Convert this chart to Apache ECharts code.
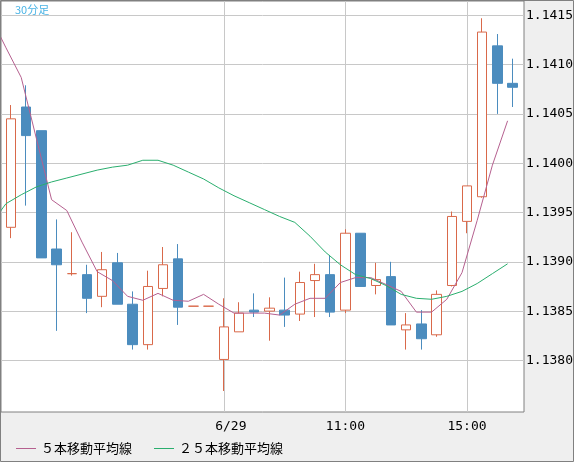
<!DOCTYPE html>
<html>
<head>
<meta charset="utf-8">
<script src="https://cdn.jsdelivr.net/npm/echarts@6/dist/echarts.min.js"></script>
<style>
  html, body { margin: 0; padding: 0; background: #efefef; }
  #chart { width: 574px; height: 462px; }
</style>
</head>
<body>
<div id="chart"></div>
<script>
// 30分足 (30-minute bars)
var times = ["0:00", "0:30", "1:00", "1:30", "2:00", "2:30", "3:00", "3:30", "4:00", "4:30",
  "5:00", "5:30", "6:00", "6:30", "7:00", "7:30", "8:00", "8:30", "9:00", "9:30",
  "10:00", "10:30", "11:00", "11:30", "12:00", "12:30", "13:00", "13:30", "14:00", "14:30",
  "15:00", "15:30", "16:00", "16:30"];

var opens = [1.13935, 1.14057, 1.14033, 1.13913, 1.13888, 1.13887, 1.13865, 1.13899, 1.13857, 1.13816,
  1.13873, 1.13903, 1.13855, 1.13855, 1.13801, 1.13829, 1.13851, 1.13850, 1.13851, 1.13847,
  1.13881, 1.13887, 1.13851, 1.13929, 1.13876, 1.13885, 1.13831, 1.13837, 1.13826, 1.13876,
  1.13941, 1.13966, 1.14119, 1.14081];
var closes = [1.14045, 1.14028, 1.13904, 1.13897, 1.13888, 1.13863, 1.13892, 1.13857, 1.13816, 1.13875,
  1.13897, 1.13854, 1.13855, 1.13855, 1.13834, 1.13848, 1.13849, 1.13853, 1.13846, 1.13879,
  1.13887, 1.13849, 1.13929, 1.13875, 1.13882, 1.13836, 1.13836, 1.13822, 1.13867, 1.13946,
  1.13977, 1.14133, 1.14081, 1.14077];
var lows = [1.13924, 1.13957, 1.13904, 1.13830, 1.13886, 1.13848, 1.13854, 1.13857, 1.13811, 1.13811,
  1.13865, 1.13836, 1.13855, 1.13855, 1.13769, 1.13829, 1.13844, 1.13820, 1.13834, 1.13840,
  1.13844, 1.13844, 1.13848, 1.13875, 1.13867, 1.13836, 1.13811, 1.13811, 1.13824, 1.13875,
  1.13929, 1.13965, 1.14050, 1.14057];
var highs = [1.14059, 1.14079, 1.14033, 1.13943, 1.13930, 1.13897, 1.13910, 1.13909, 1.13870, 1.13891,
  1.13915, 1.13918, 1.13855, 1.13855, 1.13863, 1.13859, 1.13868, 1.13864, 1.13884, 1.13890,
  1.13898, 1.13907, 1.13933, 1.13929, 1.13899, 1.13900, 1.13848, 1.13851, 1.13871, 1.13951,
  1.13977, 1.14147, 1.14131, 1.14106];

// moving averages, first value belongs to the bar before the first visible one
var ma5 = [1.14148, 1.14117, 1.14087, 1.14025, 1.13963, 1.13952, 1.13920, 1.13890, 1.13881, 1.13865,
  1.13861, 1.13868, 1.13861, 1.13860, 1.13867, 1.13857, 1.13848, 1.13848, 1.13848, 1.13846,
  1.13857, 1.13863, 1.13863, 1.13879, 1.13884, 1.13884, 1.13877, 1.13870, 1.13849, 1.13849,
  1.13862, 1.13889, 1.13942, 1.13998, 1.14043];
var ma25 = [1.13938, 1.13959, 1.13968, 1.13976, 1.13981, 1.13985, 1.13989, 1.13993, 1.13996, 1.13998,
  1.14003, 1.14003, 1.13998, 1.13991, 1.13984, 1.13975, 1.13967, 1.13960, 1.13953, 1.13946,
  1.13940, 1.13926, 1.13910, 1.13897, 1.13887, 1.13883, 1.13876, 1.13867, 1.13863, 1.13862,
  1.13865, 1.13870, 1.13878, 1.13888, 1.13898];

var labelIndex = [14, 22, 30];
var tickLabels = ["6/29", "11:00", "15:00"];
var seriesNames = ["５本移動平均線", "２５本移動平均線"];

var yMin = 1.137477; // bottom edge of the plot
var yTickMin = 1.1375; // lowest (hidden) grid line
var yMax = 1.141645;
var pxPerStep = 49.33; // pixels per 0.0005

var upColor = "#d9694a";
var downColor = "#4b8cbe";
var gridColor = "#c8c8c8";
var monoFont = "DejaVu Sans Mono";
var cjkFont = "Noto Sans CJK JP";

var candleData = [];
for (var i = 0; i < times.length; i++) {
  candleData.push([opens[i], closes[i], lows[i], highs[i]]);
}

// the average lines sit a little left of the bar centres, so they use a value axis
function toPoints(arr) {
  var pts = [];
  for (var k = 0; k < arr.length; k++) {
    pts.push([k - 1, arr[k]]);
  }
  return pts;
}

function showLabel(index) {
  return labelIndex.indexOf(index) >= 0;
}

var myChart = echarts.init(document.getElementById("chart"));

var option = {
  backgroundColor: "#efefef",
  animation: false,
  title: {
    text: "30分足",
    left: 10,
    top: -1,
    textStyle: { fontSize: 11, fontWeight: "normal", color: "#4ab4e6", fontFamily: cjkFont },
  },
  legend: {
    data: seriesNames,
    left: 11,
    top: 437,
    icon: "rect",
    itemWidth: 20,
    itemHeight: 1,
    itemGap: 22,
    textStyle: { fontSize: 13, color: "#000", fontFamily: cjkFont },
  },
  graphic: [
    {
      type: "rect",
      z: 100,
      silent: true,
      shape: { x: 0.5, y: 0.5, width: 573, height: 461 },
      style: { fill: "none", stroke: "#808080", lineWidth: 1 },
    },
  ],
  grid: [
    {
      // plot frame, also holds the average lines
      left: 1,
      top: 1,
      width: 523,
      height: 411,
      show: true,
      backgroundColor: "#fff",
      borderColor: "#808080",
      borderWidth: 1,
      outerBoundsMode: "none",
    },
    {
      // candle area
      left: 3.4,
      top: 1,
      width: 516.8,
      height: 411,
      outerBoundsMode: "none",
    },
    {
      // price scale, ends at 1.1375
      left: 1,
      top: 1,
      width: 523,
      height: ((yMax - yTickMin) / 0.0005) * pxPerStep,
      outerBoundsMode: "none",
    },
  ],
  xAxis: [
    {
      type: "value",
      gridIndex: 0,
      min: -0.329,
      max: 34.079,
      show: false,
    },
    {
      type: "category",
      gridIndex: 1,
      data: times,
      boundaryGap: true,
      axisLine: { show: false },
      axisTick: { show: false },
      axisLabel: {
        interval: showLabel,
        margin: 8,
        fontSize: 13,
        fontFamily: monoFont,
        color: "#000",
        formatter: function (value, index) {
          var k = labelIndex.indexOf(index);
          if (k === 0) return "{d|" + tickLabels[k] + "}";
          return k >= 0 ? tickLabels[k] : "";
        },
        rich: {
          d: { fontSize: 13, fontFamily: monoFont, color: "#000", padding: [0, 0, 0, 14] },
        },
      },
      splitLine: {
        show: true,
        interval: showLabel,
        alignWithLabel: true,
        lineStyle: { color: gridColor, width: 1 },
      },
    },
    {
      type: "value",
      gridIndex: 2,
      show: false,
    },
  ],
  yAxis: [
    {
      type: "value",
      gridIndex: 0,
      min: yMin,
      max: yMax,
      show: false,
      splitLine: { show: false },
    },
    {
      type: "value",
      gridIndex: 1,
      min: yMin,
      max: yMax,
      show: false,
      splitLine: { show: false },
    },
    {
      type: "value",
      gridIndex: 2,
      position: "right",
      min: yTickMin,
      max: yMax,
      splitNumber: 8,
      minInterval: 0.0005,
      maxInterval: 0.0005,
      axisLine: { show: false },
      axisTick: { show: false },
      axisLabel: {
        margin: 2,
        showMinLabel: false,
        showMaxLabel: false,
        fontSize: 13,
        fontFamily: monoFont,
        color: "#000",
        formatter: function (v) {
          return v < 1.13775 || v > 1.14155 ? "" : v.toFixed(4);
        },
      },
      splitLine: {
        show: true,
        showMinLine: false,
        showMaxLine: false,
        lineStyle: { color: gridColor, width: 1 },
      },
    },
  ],
  series: [
    {
      type: "candlestick",
      xAxisIndex: 1,
      yAxisIndex: 1,
      data: candleData,
      barWidth: 10,
      itemStyle: {
        color: "#fff",
        color0: downColor,
        borderColor: upColor,
        borderColor0: downColor,
        borderColorDoji: upColor,
        borderWidth: 1,
      },
    },
    {
      name: seriesNames[0],
      type: "line",
      xAxisIndex: 0,
      yAxisIndex: 0,
      data: toPoints(ma5),
      symbol: "none",
      lineStyle: { color: "#b5608f", width: 1 },
      itemStyle: { color: "#b5608f" },
    },
    {
      name: seriesNames[1],
      type: "line",
      xAxisIndex: 0,
      yAxisIndex: 0,
      data: toPoints(ma25),
      symbol: "none",
      lineStyle: { color: "#2aae6e", width: 1 },
      itemStyle: { color: "#2aae6e" },
    },
  ],
};

myChart.setOption(option);
</script>
</body>
</html>
